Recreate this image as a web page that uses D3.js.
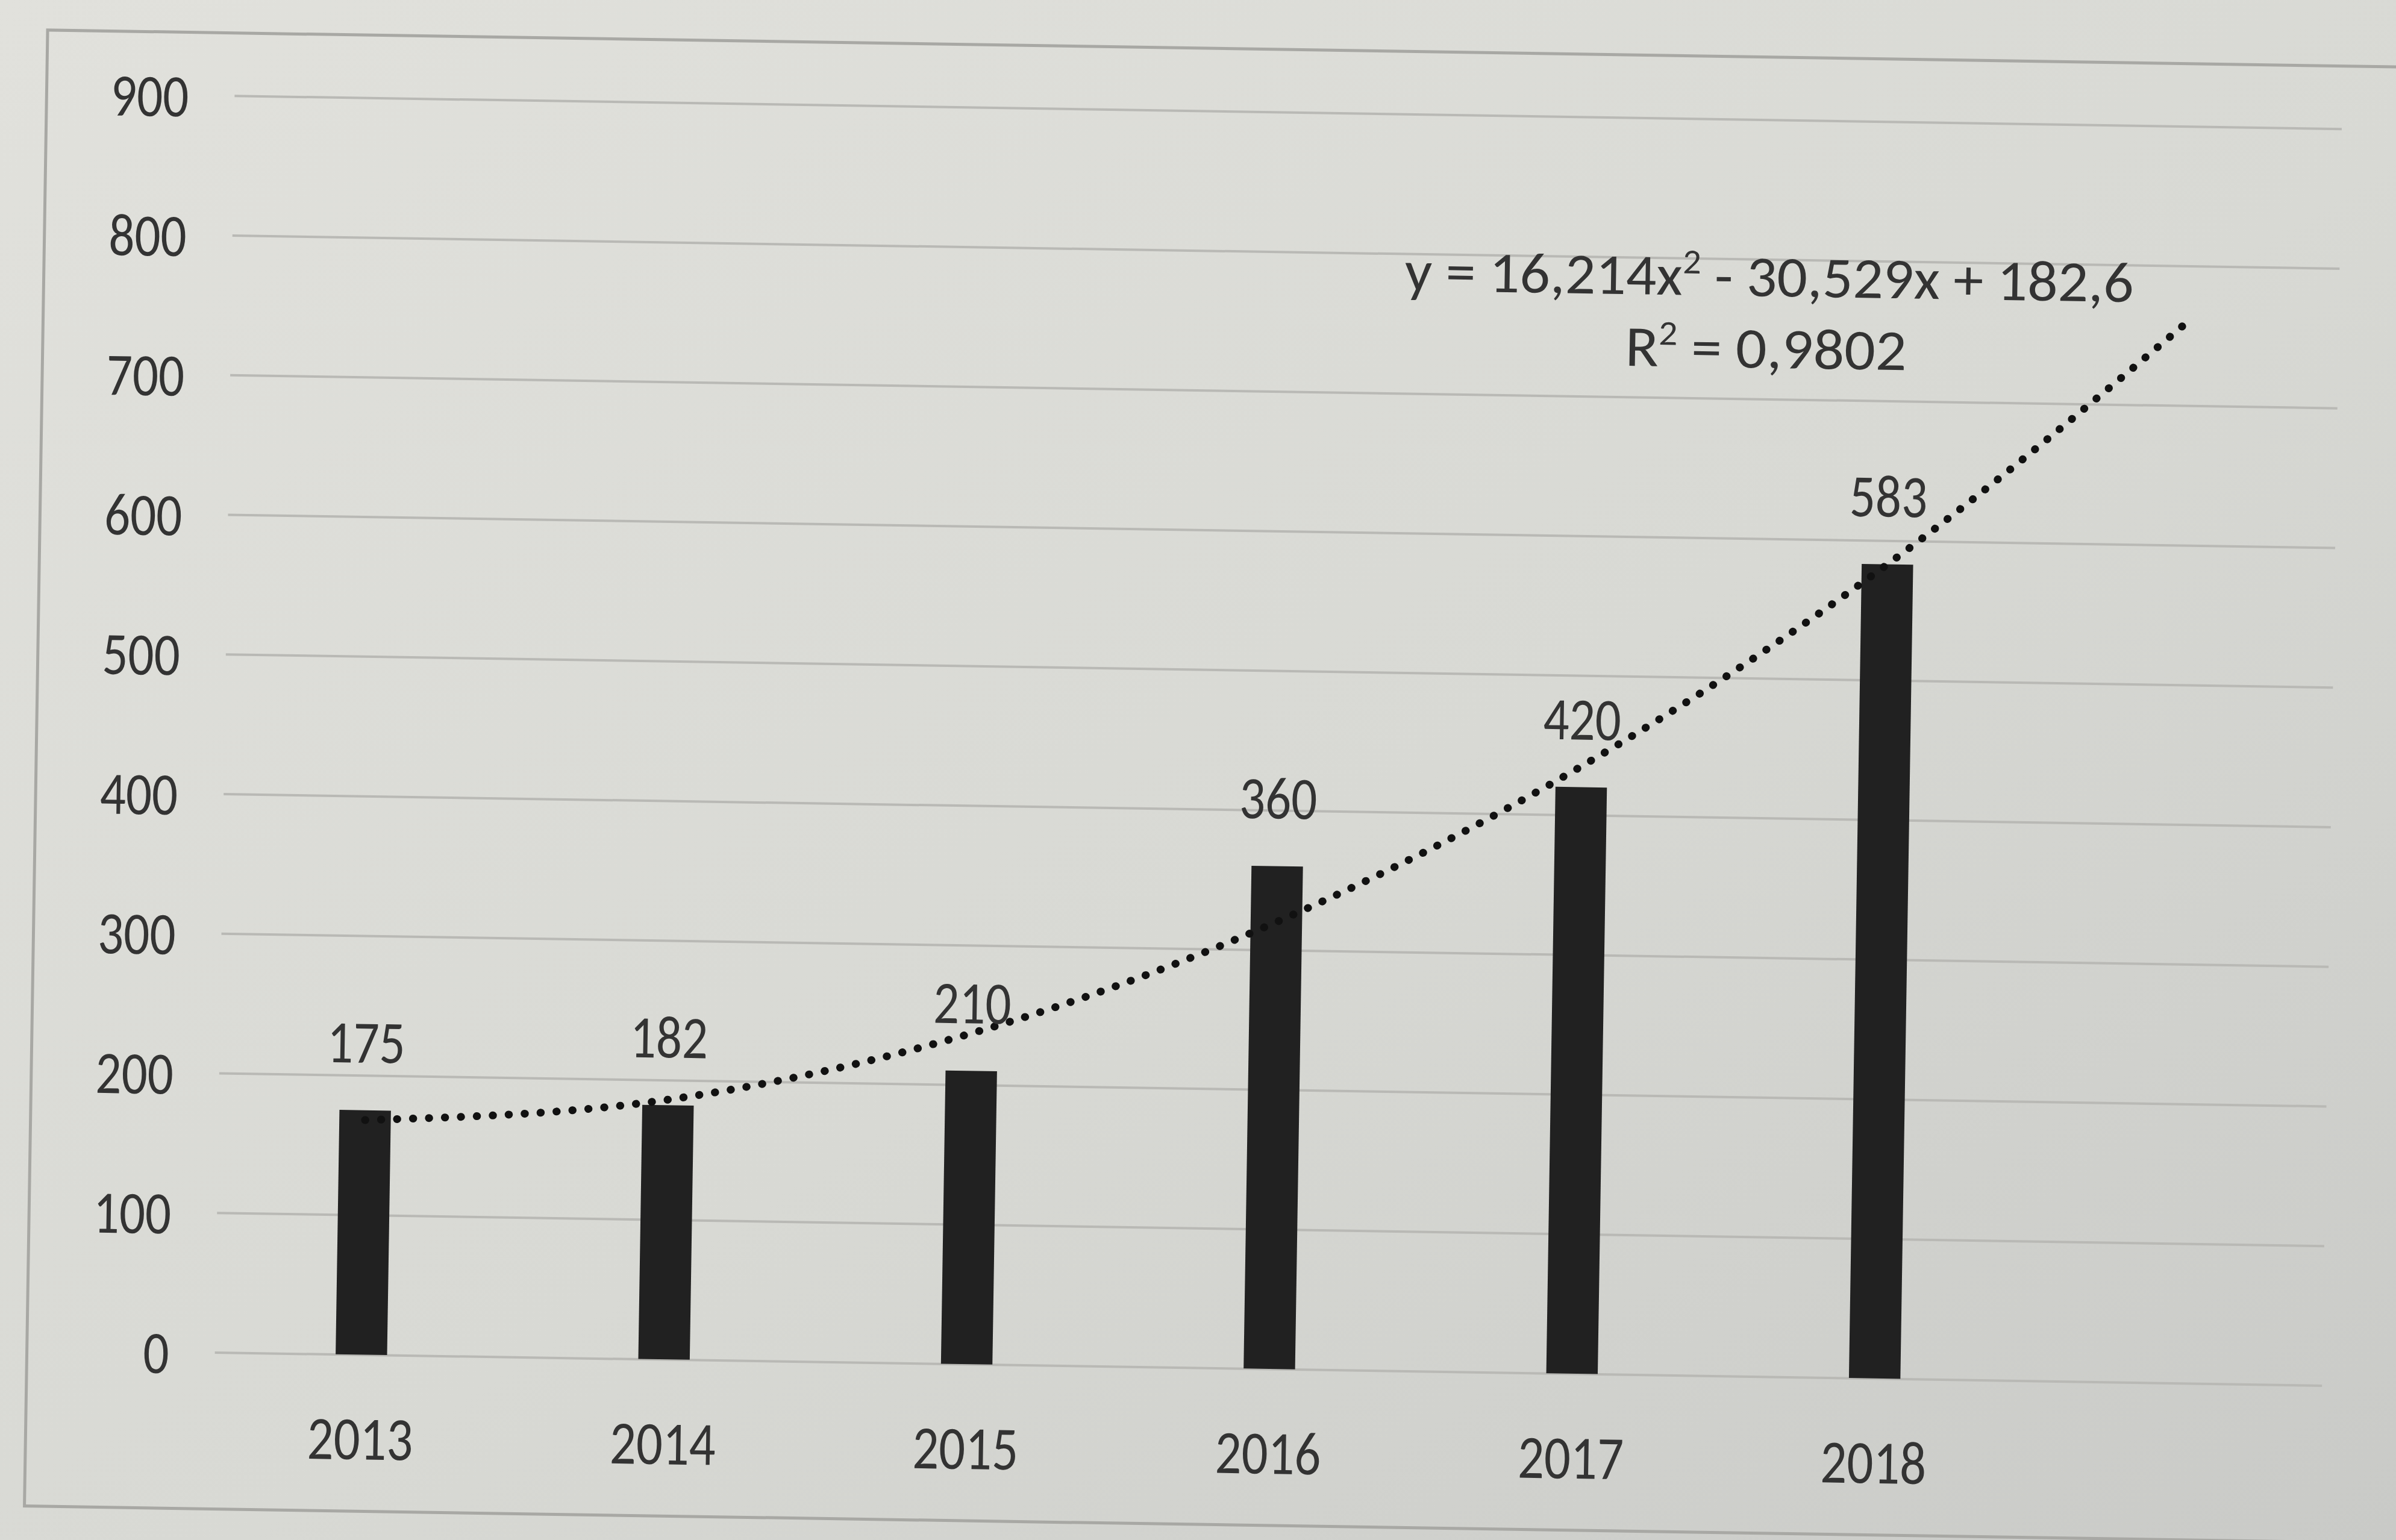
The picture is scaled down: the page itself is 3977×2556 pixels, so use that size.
<!DOCTYPE html>
<html><head><meta charset="utf-8">
<script src="https://cdn.jsdelivr.net/npm/d3@7"></script>
<style>html,body{margin:0;padding:0;overflow:hidden;background:#d8d8d3}</style>
</head><body>
<svg id="c" width="3977" height="2556"></svg>
<script>
// ---- data ----
const years = ["2013", "2014", "2015", "2016", "2017", "2018"];
const values = [175, 182, 210, 360, 420, 583];
const yTicks = [0, 100, 200, 300, 400, 500, 600, 700, 800, 900];
// polynomial trendline (order 2, forecast forward 1 period) read at each category position
const trendValues = [168, 186, 237, 320, 435, 583, 764];
const eqMain = "y = 16,214x";
const eqSup = "2";
const eqRest = " - 30,529x + 182,6";
const r2Main = "R";
const r2Sup = "2";
const r2Rest = " = 0,9802";

// ---- layout ----
const W = 3977, H = 2556;
const FONT = "Carlito, Calibri, Lato, 'Open Sans', sans-serif";
const TXT = "#333333";
const svg = d3.select("#c");
const defs = svg.append("defs");
const grad = defs.append("linearGradient").attr("id", "bg")
  .attr("x1", 0).attr("y1", 0).attr("x2", 1).attr("y2", 1);
grad.append("stop").attr("offset", 0).attr("stop-color", "#e1e1dc");
grad.append("stop").attr("offset", 0.55).attr("stop-color", "#d8d9d4");
grad.append("stop").attr("offset", 1).attr("stop-color", "#c9cac7");
svg.append("rect").attr("width", W).attr("height", H).attr("fill", "url(#bg)");

const g = svg.append("g").attr("transform", `rotate(0.9 ${W / 2} ${H / 2})`);

// chart frame
g.append("rect").attr("x", 60).attr("y", 80).attr("width", 4200).attr("height", 2450)
  .attr("fill", "none").attr("stroke", "#a8a8a4").attr("stroke-width", 5);

const slots = years.concat(["+1"]);
const x = d3.scaleBand().domain(slots).range([364, 3881]).paddingInner(0.83).paddingOuter(0.415);
const y = d3.scaleLinear().domain([0, 900]).range([2270, 184]);
const bw = x.bandwidth();

// gridlines
const grid = g.append("g").attr("transform", "translate(372,0)")
  .call(d3.axisLeft(y).tickValues(yTicks).tickSize(-(3870 - 372)).tickFormat(""));
grid.select(".domain").remove();
grid.selectAll(".tick line").attr("stroke", "#b9b9b5").attr("stroke-width", 4);

function scaledText(parent, str, px, py, anchor, size) {
  return parent.append("text")
    .attr("transform", `translate(${px},${py}) scale(0.85,1)`)
    .attr("text-anchor", anchor)
    .attr("font-family", FONT).attr("font-size", size).attr("fill", TXT)
    .text(str);
}

// y tick labels
yTicks.forEach(t => scaledText(g, String(t), 296, y(t) + 36, "end", 100));

// x labels
years.forEach(yr => scaledText(g, yr, x(yr) + bw / 2, 2444, "middle", 102));

// bars
g.append("g").selectAll("rect").data(years).join("rect")
  .attr("x", d => x(d)).attr("width", bw)
  .attr("y", (d, i) => y(values[i]))
  .attr("height", (d, i) => y(0) - y(values[i]))
  .attr("fill", "#212121");

// trendline
const line = d3.line()
  .x((d, i) => x(slots[i]) + bw / 2)
  .y(d => y(d))
  .curve(d3.curveMonotoneX);
g.append("path").datum(trendValues).attr("d", line)
  .attr("fill", "none").attr("stroke", "#111").attr("stroke-width", 13)
  .attr("stroke-linecap", "round").attr("stroke-dasharray", "0.5 26");

// data labels
years.forEach((yr, i) => scaledText(g, String(values[i]), x(yr) + bw / 2, y(values[i]) - 79, "middle", 100));

// equation
function eqText(main, sup, rest, cx, base, targetW) {
  const t = g.append("text").attr("font-family", FONT).attr("font-size", 96).attr("fill", TXT)
    .attr("text-anchor", "start");
  t.append("tspan").text(main);
  t.append("tspan").attr("font-size", 58).attr("dy", -36).text(sup);
  t.append("tspan").attr("dy", 36).text(rest);
  const w = t.node().getBBox().width;
  const s = targetW / w;
  t.attr("transform", `translate(${cx - targetW / 2},${base}) scale(${s},1)`);
}
eqText(eqMain, eqSup, eqRest, 2924, 477, 1210);
eqText(r2Main, r2Sup, r2Rest, 2920, 596, 467);
</script>
</body></html>
